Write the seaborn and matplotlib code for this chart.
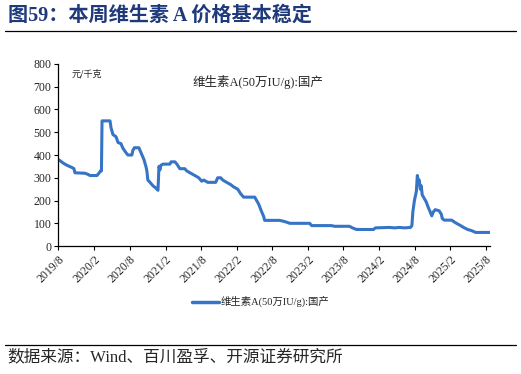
import pandas as pd
import seaborn as sns
import matplotlib.pyplot as plt
from matplotlib.lines import Line2D

dates = [
    "2019-08-01", "2019-08-10", "2019-08-25", "2019-09-14", "2019-10-10", "2019-10-20",
    "2019-10-25", "2019-12-15", "2019-12-31", "2020-01-10", "2020-02-15", "2020-02-25",
    "2020-03-04", "2020-03-09", "2020-03-12", "2020-04-22", "2020-04-27", "2020-05-07",
    "2020-05-23", "2020-06-02", "2020-06-17", "2020-06-27", "2020-07-13", "2020-07-23",
    "2020-08-12", "2020-08-17", "2020-08-25", "2020-09-17", "2020-09-28", "2020-10-13",
    "2020-10-23", "2020-10-28", "2020-11-02", "2020-11-13", "2020-11-28", "2020-12-13",
    "2020-12-24", "2020-12-29", "2021-01-03", "2021-01-08", "2021-01-19", "2021-02-23",
    "2021-03-01", "2021-03-21", "2021-03-31", "2021-04-15", "2021-05-10", "2021-05-21",
    "2021-06-10", "2021-07-01", "2021-07-21", "2021-08-05", "2021-08-16", "2021-09-05",
    "2021-10-16", "2021-10-26", "2021-11-11", "2021-11-21", "2021-12-11", "2022-01-01",
    "2022-01-16", "2022-02-06", "2022-02-21", "2022-03-08", "2022-05-04", "2022-05-14",
    "2022-05-24", "2022-06-09", "2022-06-19", "2022-06-24", "2022-09-09", "2022-09-24",
    "2022-10-15", "2022-10-31", "2023-02-10", "2023-02-20", "2023-06-02", "2023-06-17",
    "2023-09-02", "2023-09-17", "2023-10-08", "2024-01-03", "2024-01-13", "2024-03-25",
    "2024-04-20", "2024-05-16", "2024-06-11", "2024-07-11", "2024-07-18", "2024-07-23",
    "2024-07-31", "2024-08-10", "2024-08-15", "2024-08-20", "2024-08-25", "2024-08-30",
    "2024-09-04", "2024-09-09", "2024-09-19", "2024-09-29", "2024-10-10", "2024-10-20",
    "2024-10-28", "2024-11-05", "2024-11-15", "2024-12-05", "2024-12-16", "2024-12-21",
    "2024-12-31", "2025-02-07", "2025-02-22", "2025-03-10", "2025-03-25", "2025-04-09",
    "2025-04-30", "2025-05-20", "2025-06-10", "2025-08-22",
]
prices = [
    380, 375, 365, 355, 345, 340,
    322, 320, 315, 310, 310, 320,
    330, 330, 550, 550, 520, 490,
    480, 455, 450, 430, 410, 400,
    400, 420, 432, 432, 410, 380,
    350, 330, 290, 280, 265, 255,
    245, 350, 335, 355, 360, 360,
    370, 370, 360, 340, 340, 330,
    320, 310, 300, 285, 290, 280,
    280, 300, 300, 290, 280, 270,
    260, 250, 230, 215, 215, 200,
    185, 150, 130, 113, 113, 110,
    105, 100, 100, 90, 90, 87,
    87, 80, 73, 73, 80, 82,
    80, 82, 80, 82, 90, 150,
    200, 240, 310, 285, 290, 250,
    265, 225, 210, 195, 170, 150,
    133, 150, 160, 155, 140, 121,
    114, 114, 105, 97, 90, 82,
    73, 68, 60, 60,
]
tick_dates = ["2019-08-01", "2020-02-01", "2020-08-01", "2021-02-01", "2021-08-01",
              "2022-02-01", "2022-08-01", "2023-02-01", "2023-08-01", "2024-02-01",
              "2024-08-01", "2025-02-01", "2025-08-01"]
tick_labels = ["2019/8", "2020/2", "2020/8", "2021/2", "2021/8", "2022/2", "2022/8",
               "2023/2", "2023/8", "2024/2", "2024/8", "2025/2", "2025/8"]
series_name = "维生素A(50万IU/g):国产"

df = pd.DataFrame({"date": pd.to_datetime(dates), "price": prices})

sns.set_style("ticks")
serif_cjk = ["Liberation Serif", "Noto Sans CJK SC"]
plt.rcParams["font.family"] = serif_cjk
line_color = "#3674C6"

fig = plt.figure(figsize=(5.21, 3.74), dpi=100)
ax = fig.add_axes([0.112, 0.342, 0.829, 0.487])
sns.lineplot(data=df, x="date", y="price", ax=ax, color=line_color, linewidth=2.2)

ax.set_ylim(0, 800)
ax.set_yticks(range(0, 801, 100))
ax.set_xlim(pd.Timestamp("2019-08-01"), pd.Timestamp("2025-08-24"))
ax.set_xticks(pd.to_datetime(tick_dates))
ax.set_xticklabels(tick_labels, rotation=45, ha="right", rotation_mode="anchor")
ax.tick_params(axis="both", labelsize=8.5, length=3, width=0.8, color="black", pad=2)
ax.set_xlabel("")
ax.set_ylabel("")
for s in ["top", "right"]:
    ax.spines[s].set_visible(False)
for s in ["left", "bottom"]:
    ax.spines[s].set_color("black")
    ax.spines[s].set_linewidth(0.9)

ax.text(0.03, 0.97, "元/千克", transform=ax.transAxes, fontsize=6.5,
        family=["Noto Sans CJK SC", "DejaVu Sans"], va="top", ha="left")
ax.text(0.31, 0.94, series_name, transform=ax.transAxes, fontsize=9, family=serif_cjk,
        va="top", ha="left")

handle = Line2D([], [], color=line_color, linewidth=2.5)
fig.legend([handle], [series_name], loc="center", bbox_to_anchor=(0.5, 0.193),
           frameon=False, prop={"family": serif_cjk, "size": 7.5}, handlelength=2.6,
           handletextpad=0.2)

fig.text(0.015, 0.958, "图59：本周维生素 A 价格基本稳定", fontsize=14.5, fontweight="bold",
         color="#1F3A7A", family=serif_cjk, va="center", ha="left")
fig.add_artist(Line2D([0.01, 0.99], [0.917, 0.917], color="black", linewidth=0.9))
fig.add_artist(Line2D([0.01, 0.99], [0.077, 0.077], color="black", linewidth=0.9))
fig.text(0.015, 0.045, "数据来源：Wind、百川盈孚、开源证券研究所", fontsize=12,
         family=serif_cjk, va="center", ha="left")

fig.savefig("out.png", dpi=100)
